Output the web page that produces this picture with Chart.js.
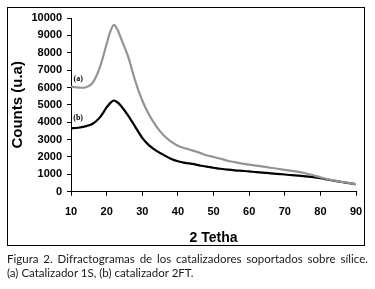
<!DOCTYPE html>
<html lang="es">
<head>
  <meta charset="UTF-8">
  <title>Difractogramas</title>
  <script src="https://cdn.jsdelivr.net/npm/chart.js@4.4.1/dist/chart.umd.min.js"></script>
  <style>
    html, body { margin: 0; padding: 0; background: #fff; }
    #wrap { position: relative; width: 375px; height: 289px; overflow: hidden; }
    #myChart { position: absolute; left: 0; top: 0; }
    #frame { position: absolute; left: 7px; top: 7px; width: 356px; height: 237px;
             border: 1.5px solid #000; pointer-events: none; }
    .cap { position: absolute; left: 7px; width: 361px; white-space: nowrap;
           font-family: Lato, 'Noto Sans', sans-serif; font-size: 11.5px; line-height: 14px; color: #1a1a1a; }
    #cap1 { top: 252px; text-align: justify; text-align-last: justify; white-space: normal; }
    #cap2 { top: 266px; }
  </style>
</head>
<body>
<div id="wrap">
  <canvas id="myChart" width="375" height="289"></canvas>
  <div id="frame"></div>
  <div class="cap" id="cap1">Figura 2. Difractogramas de los catalizadores soportados sobre sílice.</div>
  <div class="cap" id="cap2">(a) Catalizador 1S, (b) catalizador 2FT.</div>
</div>

<script>
// 2 theta
const angles = [10, 12, 14, 16, 18, 20, 21, 22, 23, 24, 26, 28, 30, 32, 34, 36, 38, 40, 42, 44, 46, 48, 50,
                52, 54, 56, 58, 60, 62, 64, 66, 68, 70, 72, 74, 76, 78, 80, 82, 84, 86, 88, 90];
// (a) catalizador 1S
const countsA = [6050, 6000, 6000, 6250, 7100, 8500, 9200, 9600, 9350, 8850, 7800, 6400, 5250, 4400, 3750, 3250,
                 2900, 2650, 2500, 2380, 2250, 2100, 2000, 1900, 1780, 1700, 1620, 1560, 1500, 1440,
                 1380, 1320, 1260, 1200, 1140, 1050, 950, 830, 720, 640, 570, 500, 430];
// (b) catalizador 2FT
const countsB = [3650, 3680, 3760, 3900, 4250, 4850, 5100, 5250, 5150, 4950, 4400, 3750, 3100, 2650, 2350, 2120,
                 1900, 1750, 1660, 1600, 1520, 1440, 1380, 1320, 1270, 1230, 1200, 1170, 1130, 1100,
                 1060, 1030, 990, 950, 920, 880, 840, 780, 700, 620, 560, 490, 430];
const xTicks = [10, 20, 30, 40, 50, 60, 70, 80, 90];
const yTicks = [0, 1000, 2000, 3000, 4000, 5000, 6000, 7000, 8000, 9000, 10000];
const curveLabels = [
  { text: '(a)', x: 12, y: 6500 },
  { text: '(b)', x: 12, y: 4250 }
];

const tickFont = { family: "'Liberation Sans Narrow', 'Liberation Sans', Arial, sans-serif", size: 11, weight: 'bold' };

// etiquetas (a) y (b)
const curveLabelPlugin = {
  id: 'curveLabels',
  afterDatasetsDraw(chart) {
    const c = chart.ctx;
    c.save();
    c.font = "bold 8px 'Liberation Serif', serif";
    c.fillStyle = '#000';
    c.textAlign = 'center';
    c.textBaseline = 'middle';
    curveLabels.forEach(l => {
      c.fillText(l.text, chart.scales.x.getPixelForValue(l.x), chart.scales.y.getPixelForValue(l.y));
    });
    c.restore();
  }
};

const ctx = document.getElementById('myChart').getContext('2d');
const myChart = new Chart(ctx, {
  type: 'line',
  data: {
    datasets: [
      {
        label: '(a)',
        data: angles.map((a, i) => ({ x: a, y: countsA[i] })),
        borderColor: '#949494',
        borderWidth: 2.2,
        pointRadius: 0,
        tension: 0.3
      },
      {
        label: '(b)',
        data: angles.map((a, i) => ({ x: a, y: countsB[i] })),
        borderColor: '#000',
        borderWidth: 2.2,
        pointRadius: 0,
        tension: 0.3
      }
    ]
  },
  options: {
    responsive: false,
    animation: false,
    layout: { padding: { left: 0, right: 19, top: 18, bottom: 0 } },
    plugins: { legend: { display: false }, tooltip: { enabled: false } },
    scales: {
      x: {
        type: 'linear',
        min: 10, max: 90,
        afterBuildTicks: s => { s.ticks = xTicks.map(v => ({ value: v })); },
        afterFit: s => { s.height = 97.3; },
        grid: { drawOnChartArea: false, drawTicks: true, tickLength: 4, color: '#000' },
        border: { display: true, color: '#000', width: 1 },
        ticks: { color: '#000', padding: 10, maxRotation: 0, autoSkip: false,
                 callback: v => String(v), font: tickFont },
        title: { display: true, text: '2 Tetha', color: '#000',
                 padding: { top: 0, bottom: 42 },
                 font: { family: "'Liberation Sans', Arial, sans-serif", size: 14, weight: 'bold' } }
      },
      y: {
        min: 0, max: 10000,
        afterBuildTicks: s => { s.ticks = yTicks.map(v => ({ value: v })); },
        afterFit: s => { s.width = 71; },
        grid: { drawOnChartArea: false, drawTicks: true, tickLength: 4, color: '#000' },
        border: { display: true, color: '#000', width: 1 },
        ticks: { color: '#000', padding: 5, autoSkip: false,
                 callback: v => String(v), font: tickFont },
        title: { display: true, text: 'Counts (u.a)', color: '#000',
                 padding: { top: 9, bottom: 0 },
                 font: { family: "'Liberation Sans', Arial, sans-serif", size: 15, weight: 'bold' } }
      }
    }
  },
  plugins: [curveLabelPlugin]
});
</script>
</body>
</html>
